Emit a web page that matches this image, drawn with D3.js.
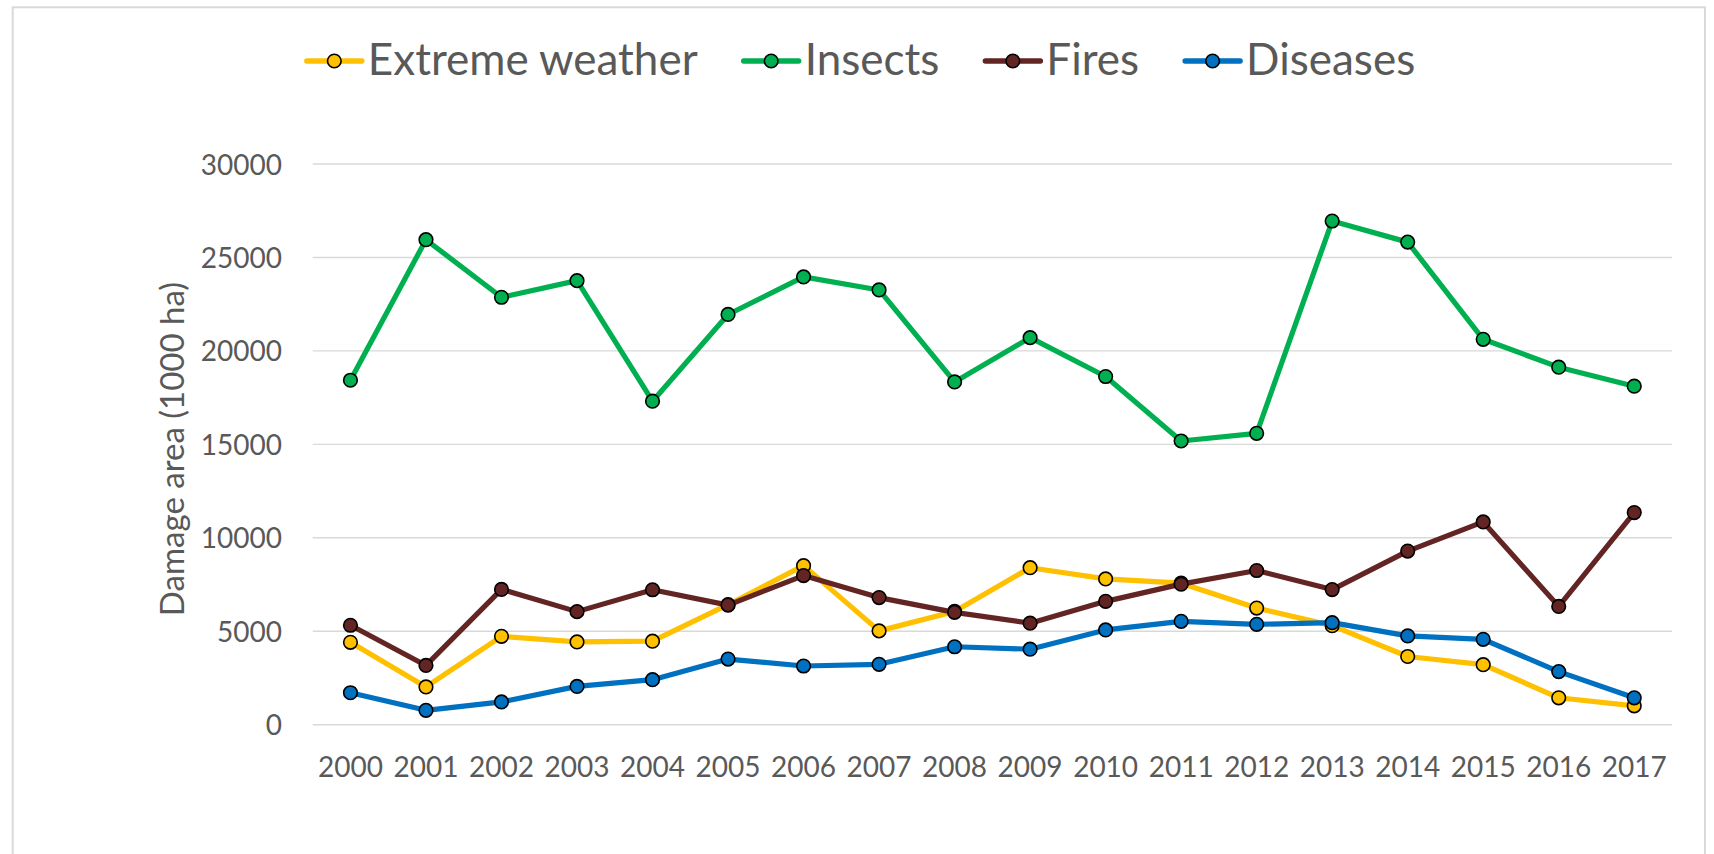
<!DOCTYPE html>
<html>
<head>
<meta charset="utf-8">
<script src="https://cdn.jsdelivr.net/npm/d3@7"></script>
<style>
  html, body { margin: 0; padding: 0; background: #ffffff; }
  svg { display: block; }
  text { font-family: Lato, "Open Sans", sans-serif; fill: #595959; }
</style>
</head>
<body>
<svg id="chart" width="1714" height="854"></svg>
<script>
// ---- data ----
const years = [2000, 2001, 2002, 2003, 2004, 2005, 2006, 2007, 2008, 2009, 2010, 2011, 2012, 2013, 2014, 2015, 2016, 2017];
const extremeWeather = [4410, 2020, 4730, 4430, 4470, 6420, 8510, 5020, 6060, 8400, 7800, 7570, 6240, 5300, 3650, 3210, 1440, 1010];
const insects = [18430, 25950, 22870, 23760, 17310, 21950, 23960, 23260, 18340, 20710, 18630, 15180, 15590, 26950, 25820, 20620, 19130, 18110];
const fires = [5320, 3170, 7240, 6050, 7220, 6400, 7980, 6800, 6010, 5430, 6600, 7520, 8250, 7230, 9290, 10850, 6330, 11350];
const diseases = [1710, 770, 1220, 2050, 2410, 3510, 3140, 3230, 4170, 4040, 5070, 5530, 5370, 5460, 4750, 4570, 2840, 1440];
const seriesNames = ["Extreme weather", "Insects", "Fires", "Diseases"];
const seriesColors = ["#FFC000", "#00B050", "#632523", "#0070C0"];
const yTicks = [0, 5000, 10000, 15000, 20000, 25000, 30000];
const yTitle = "Damage area (1000 ha)";

const seriesValues = [extremeWeather, insects, fires, diseases];

const svg = d3.select("#chart");

// outer frame
svg.append("rect")
  .attr("x", 12.7).attr("y", 7.3)
  .attr("width", 1705 - 12.7).attr("height", 900)
  .attr("fill", "#ffffff")
  .attr("stroke", "#d9d9d9").attr("stroke-width", 2);

// scales
const x = d3.scaleBand().domain(years).range([312.7, 1672]);
const xc = d => x(d) + x.bandwidth() / 2;
const y = d3.scaleLinear().domain([0, 30000]).range([724.7, 164]);

// gridlines
svg.append("g").selectAll("line").data(yTicks).join("line")
  .attr("x1", 312.7).attr("x2", 1672)
  .attr("y1", d => y(d)).attr("y2", d => y(d))
  .attr("stroke", "#d9d9d9").attr("stroke-width", 1.4);

// y axis labels
const yAxis = d3.axisLeft(y).tickValues(yTicks).tickSize(0).tickPadding(0).tickFormat(d3.format("d"));
const yg = svg.append("g").attr("transform", "translate(282,0)").call(yAxis);
yg.select(".domain").remove();
yg.selectAll("text")
  .attr("font-family", "Lato, sans-serif")
  .attr("font-size", 28)
  .attr("fill", "#595959")
  .attr("dy", "0.36em");

// x axis labels
const xAxis = d3.axisBottom(x).tickSize(0).tickPadding(0).tickFormat(d3.format("d"));
const xg = svg.append("g").attr("transform", "translate(0,757)").call(xAxis);
xg.select(".domain").remove();
xg.selectAll("text")
  .attr("font-family", "Lato, sans-serif")
  .attr("font-size", 28)
  .attr("fill", "#595959")
  .attr("dy", "0.71em");

// y title
svg.append("text")
  .attr("transform", "translate(184,449) rotate(-90)")
  .attr("text-anchor", "middle")
  .attr("font-size", 33)
  .text(yTitle);

// series
const line = d3.line().x((d, i) => xc(years[i])).y(d => y(d));
seriesValues.forEach((vals, si) => {
  const g = svg.append("g");
  g.append("path")
    .attr("d", line(vals))
    .attr("fill", "none")
    .attr("stroke", seriesColors[si])
    .attr("stroke-width", 5.2)
    .attr("stroke-linejoin", "round")
    .attr("stroke-linecap", "round");
  g.selectAll("circle").data(vals).join("circle")
    .attr("cx", (d, i) => xc(years[i]))
    .attr("cy", d => y(d))
    .attr("r", 6.8)
    .attr("fill", seriesColors[si])
    .attr("stroke", "#000")
    .attr("stroke-width", 1.6);
});

// legend
const legend = svg.append("g");
const lineLen = 55, textGap = 61, itemGap = 46, legCY = 61, legCenter = 861;
const items = seriesNames.map((name, i) => {
  const g = legend.append("g");
  g.append("line").attr("x1", 0).attr("x2", lineLen).attr("y1", legCY).attr("y2", legCY)
    .attr("stroke", seriesColors[i]).attr("stroke-width", 5.4).attr("stroke-linecap", "round");
  g.append("circle").attr("cx", lineLen / 2).attr("cy", legCY).attr("r", 6.8)
    .attr("fill", seriesColors[i]).attr("stroke", "#000").attr("stroke-width", 1.6);
  const t = g.append("text").attr("x", textGap).attr("y", 75).attr("font-size", 44).text(name);
  return { g, w: textGap + t.node().getComputedTextLength() };
});
const total = d3.sum(items, d => d.w) + itemGap * (items.length - 1);
let cx = legCenter - total / 2;
items.forEach(it => { it.g.attr("transform", `translate(${cx},0)`); cx += it.w + itemGap; });
</script>
</body>
</html>
